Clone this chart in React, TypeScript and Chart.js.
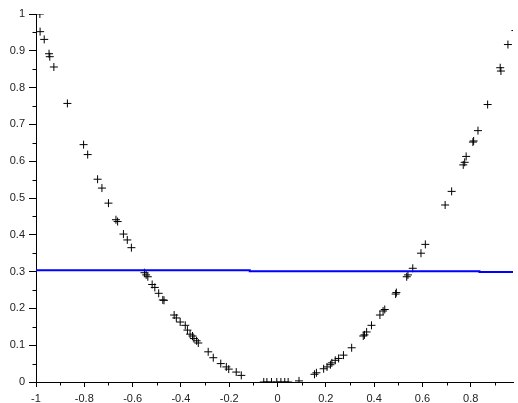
import React, { useEffect, useRef } from "react";
import { Chart, registerables } from "chart.js";

Chart.register(...registerables);

const scatterX = [
  -0.984, -0.983, -0.966, -0.946, -0.943, -0.926, -0.87, -0.803, -0.786, -0.745,
  -0.727, -0.7, -0.669, -0.662, -0.638, -0.622, -0.605, -0.551, -0.544, -0.537,
  -0.519, -0.508, -0.492, -0.475, -0.47, -0.428, -0.419, -0.403, -0.382, -0.373,
  -0.362, -0.352, -0.346, -0.335, -0.328, -0.287, -0.266, -0.235, -0.212, -0.202,
  -0.171, -0.15, -0.057, -0.044, -0.025, -0.003, 0.014, 0.03, 0.044, 0.089,
  0.153, 0.161, 0.191, 0.205, 0.219, 0.225, 0.239, 0.253, 0.273, 0.307,
  0.355, 0.36, 0.369, 0.389, 0.424, 0.437, 0.444, 0.489, 0.492, 0.535,
  0.54, 0.56, 0.594, 0.612, 0.694, 0.721, 0.769, 0.775, 0.781, 0.809,
  0.812, 0.83, 0.87, 0.922, 0.925, 0.954, 0.985,
];
const scatterY = [
  1.0, 0.952, 0.931, 0.892, 0.884, 0.856, 0.757, 0.645, 0.618, 0.551,
  0.527, 0.486, 0.441, 0.436, 0.402, 0.386, 0.365, 0.297, 0.291, 0.286,
  0.265, 0.257, 0.241, 0.223, 0.222, 0.182, 0.174, 0.163, 0.154, 0.141,
  0.13, 0.125, 0.118, 0.112, 0.106, 0.082, 0.066, 0.05, 0.041, 0.035,
  0.027, 0.018, 0.0, 0.0, 0.0, 0.0, 0.0, 0.0, 0.0, 0.003,
  0.021, 0.025, 0.036, 0.041, 0.047, 0.052, 0.059, 0.064, 0.073, 0.093,
  0.125, 0.128, 0.136, 0.154, 0.182, 0.193, 0.197, 0.239, 0.243, 0.286,
  0.291, 0.309, 0.35, 0.374, 0.481, 0.518, 0.59, 0.597, 0.613, 0.652,
  0.655, 0.683, 0.754, 0.854, 0.845, 0.917, 0.955,
];

const lineX = [-1, -0.115, -0.115, 0.836, 0.836, 0.975];
const lineY = [0.304, 0.304, 0.301, 0.301, 0.299, 0.299];

const xTickValues = [-1, -0.8, -0.6, -0.4, -0.2, 0, 0.2, 0.4, 0.6, 0.8];
const xTickLabels = ["-1", "-0.8", "-0.6", "-0.4", "-0.2", "0", "0.2", "0.4", "0.6", "0.8"];
const xMinorValues = [-0.9, -0.7, -0.5, -0.3, -0.1, 0.1, 0.3, 0.5, 0.7, 0.9];
const yTickValues = [0, 0.1, 0.2, 0.3, 0.4, 0.5, 0.6, 0.7, 0.8, 0.9, 1];
const yTickLabels = ["0", "0.1", "0.2", "0.3", "0.4", "0.5", "0.6", "0.7", "0.8", "0.9", "1"];
const yMinorValues = [0.05, 0.15, 0.25, 0.35, 0.45, 0.55, 0.65, 0.75, 0.85, 0.95];

const minorTicks = {
  id: "minorTicks",
  afterDraw(chart: any) {
    const ctx = chart.ctx;
    const xs = chart.scales.x;
    const ys = chart.scales.y;
    const area = chart.chartArea;
    ctx.save();
    ctx.strokeStyle = "#000";
    ctx.lineWidth = 1;
    ctx.beginPath();
    const by = Math.round(area.bottom) + 0.5;
    xMinorValues.forEach((v) => {
      const px = Math.round(xs.getPixelForValue(v)) + 0.5;
      ctx.moveTo(px, by);
      ctx.lineTo(px, by + 3);
    });
    const lx = Math.round(area.left) + 0.5;
    yMinorValues.forEach((v) => {
      const py = Math.round(ys.getPixelForValue(v)) + 0.5;
      ctx.moveTo(lx, py);
      ctx.lineTo(lx - 4, py);
    });
    ctx.stroke();
    ctx.restore();
  },
};

export default function App() {
  const ref = useRef<HTMLCanvasElement>(null);
  useEffect(() => {
    if (!ref.current) return;
    const font = { family: "'Liberation Sans', Arial, sans-serif", size: 11 };
    const chart = new Chart(ref.current, {
      type: "scatter",
      data: {
        datasets: [
          {
            type: "line",
            data: lineX.map((x, i) => ({ x, y: lineY[i] })),
            borderColor: "#0000ff",
            borderWidth: 2,
            pointRadius: 0,
            fill: false,
            tension: 0,
            clip: 0,
            order: 0,
          } as any,
          {
            data: scatterX.map((x, i) => ({ x, y: scatterY[i] })),
            pointStyle: "cross",
            pointRadius: 4,
            pointBorderWidth: 1,
            borderColor: "#000",
            backgroundColor: "#000",
            clip: 0,
            order: 1,
          } as any,
        ],
      },
      options: {
        responsive: false,
        animation: false,
        devicePixelRatio: 1,
        layout: { padding: { top: 14, right: 0, left: 0, bottom: 0 } },
        plugins: { legend: { display: false }, tooltip: { enabled: false } },
        scales: {
          x: {
            type: "linear",
            min: -1,
            max: 0.975,
            afterBuildTicks: (s: any) => {
              s.ticks = xTickValues.map((v) => ({ value: v }));
            },
            afterFit: (s: any) => {
              s.height = 21;
            },
            ticks: {
              autoSkip: false,
              maxRotation: 0,
              padding: 5,
              color: "#222",
              font,
              callback: (_v: any, i: number) => xTickLabels[i],
            },
            grid: {
              display: true,
              drawOnChartArea: false,
              drawTicks: true,
              tickLength: 5,
              color: "#000",
              lineWidth: 1,
            },
            border: { display: true, color: "#000", width: 1 },
          },
          y: {
            type: "linear",
            min: 0,
            max: 1,
            afterBuildTicks: (s: any) => {
              s.ticks = yTickValues.map((v) => ({ value: v }));
            },
            afterFit: (s: any) => {
              s.width = 36;
            },
            ticks: {
              autoSkip: false,
              padding: 4,
              color: "#222",
              font,
              callback: (_v: any, i: number) => yTickLabels[i],
            },
            grid: {
              display: true,
              drawOnChartArea: false,
              drawTicks: true,
              tickLength: 7,
              color: "#000",
              lineWidth: 1,
            },
            border: { display: true, color: "#000", width: 1 },
          },
        },
      },
      plugins: [minorTicks],
    } as any);
    return () => chart.destroy();
  }, []);
  return (
    <div style={{ position: "fixed", left: 0, top: 0, width: 518, height: 403, background: "#fff" }}>
      <canvas ref={ref} width={518} height={403} style={{ display: "block", width: 518, height: 403 }} />
    </div>
  );
}
